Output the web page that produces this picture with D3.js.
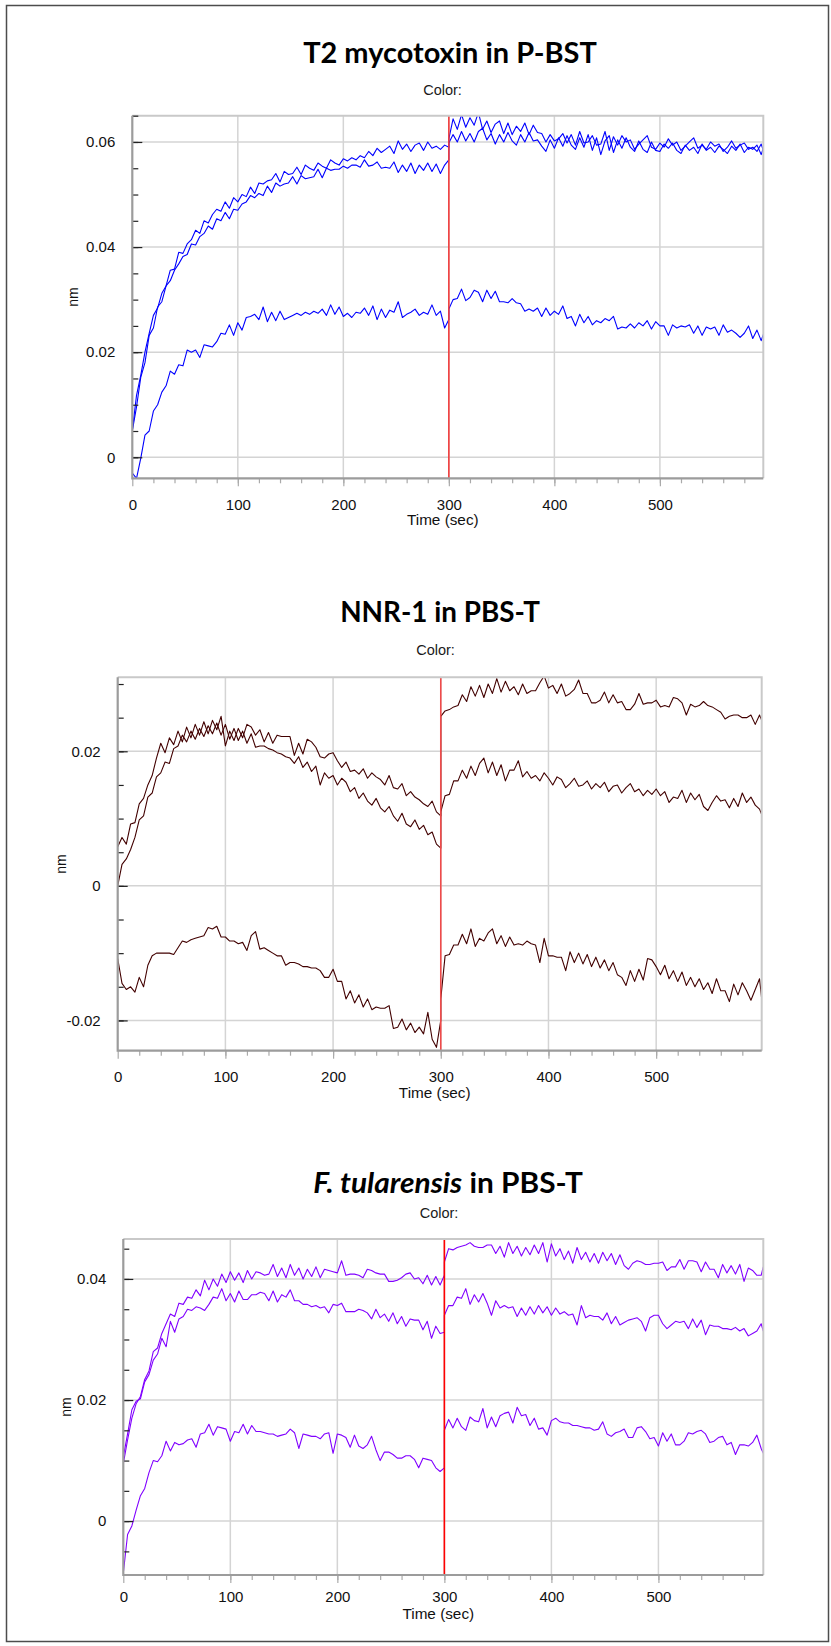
<!DOCTYPE html>
<html>
<head>
<meta charset="utf-8">
<script src="https://cdn.jsdelivr.net/npm/d3@7"></script>
<style>
  body { margin: 0; background: #fff; }
  svg { display: block; }
  text { font-family: "Liberation Sans", Arial, Helvetica, sans-serif; }
</style>
</head>
<body>
<svg id="fig" width="831" height="1646"></svg>
<script>
// Sampling grid in seconds: association 0–300 s, dissociation 300–598 s
const assocTime = d3.range(0, 301, 4);
const dissocTime = d3.range(300, 597, 4).concat([598]);
const timeSec = assocTime.concat(dissocTime);

// Response values below are in units of 1e-4 nm
const UNIT = 1e-4;

const xDomain = [0, 598];
const xTicksMajor = [0, 100, 200, 300, 400, 500];
const xTicksMinor = d3.range(20, 600, 20);
const xGrid = [100, 200, 300, 400, 500];
const bufferSwitch = 300;

// ---- T2 mycotoxin in P-BST ----
const t2YLabels = [0, 0.02, 0.04, 0.06];
const t2A = [
  50,118,156,200,236,270,284,312,326,356,
  358,390,388,406,414,432,426,450,446,462,
  472,468,486,474,494,486,500,496,514,502,
  522,520,526,528,540,524,544,538,540,552,
  538,556,550,546,560,554,550,566,560,556,
  568,564,570,566,574,570,582,574,588,580,
  586,592,578,602,586,596,582,594,598,584,
  600,588,592,586,594,590,
  606,644,624,652,628,646,632,656,624,640,
  618,634,640,616,636,614,630,620,636,614,
  632,618,616,600,614,602,606,616,598,614,
  594,620,598,600,612,594,596,620,584,610,
  594,612,600,604,586,596,604,612,590,586,
  598,590,606,594,600,584,592,600,608,588,
  594,586,600,592,596,582,590,602,588,594,
  598,586,590,582,596,584
];
const t2B = [
  50,96,152,180,232,246,286,296,326,336,
  356,368,382,386,406,404,420,426,440,434,
  454,450,466,454,472,470,482,486,498,494,
  502,498,516,504,522,516,520,522,534,520,
  536,530,532,534,548,532,550,546,548,548,
  554,550,556,556,552,566,554,556,562,550,
  552,550,562,542,556,544,560,540,556,546,
  560,544,558,540,556,566,
  598,614,600,620,602,616,600,620,626,604,
  616,596,614,600,618,602,594,614,600,618,
  602,604,592,582,604,588,608,592,612,594,
  586,608,590,614,584,608,576,602,612,580,
  604,588,608,590,582,602,586,580,600,584,
  582,596,588,598,584,578,594,584,590,578,
  596,584,590,580,592,586,578,592,584,596,
  580,590,586,594,576,588
];
const t2C = [
  -30,-40,-2,42,50,88,100,124,136,164,
  158,176,174,204,200,204,190,214,212,210,
  220,236,234,252,232,256,242,266,268,272,
  262,286,258,276,260,278,262,266,270,274,
  270,276,272,278,274,282,270,290,272,286,
  268,274,266,276,274,284,270,288,262,282,
  266,280,276,296,266,272,276,282,270,276,
  272,290,270,278,246,262,
  282,300,302,320,298,304,318,314,296,318,
  302,316,296,296,294,302,294,292,278,282,
  278,284,268,284,270,278,272,288,264,268,
  250,272,256,268,252,260,256,264,260,268,
  244,248,246,254,246,256,250,260,244,258,
  250,250,232,252,246,250,248,252,236,250,
  232,248,244,248,232,252,238,242,236,228,
  236,250,226,242,222,234
];

// ---- NNR-1 in PBS-T ----
const nnrYLabels = [-0.02, 0, 0.02];
const nnrD = [
  58,72,62,92,94,122,130,150,164,190,
  212,198,220,210,230,214,236,220,240,224,
  244,226,246,232,252,208,230,216,234,220,
  240,236,224,232,214,228,212,224,222,222,
  222,194,212,196,218,214,206,192,190,196,
  198,186,176,184,170,172,166,174,160,168,
  162,158,150,164,146,144,152,134,140,132,
  128,122,118,126,110,104,
  110,134,136,156,156,172,160,178,164,182,
  190,168,184,164,180,156,172,172,186,162,
  170,160,164,156,168,160,150,162,158,146,
  152,160,148,150,156,144,152,146,154,140,
  148,150,138,146,152,140,144,134,142,136,
  144,134,140,124,132,130,142,124,138,128,
  136,118,112,124,134,126,128,116,130,118,
  138,124,132,120,114,106
];
const nnrE = [
  0,32,40,54,72,98,104,132,138,162,
  168,184,182,204,208,224,214,230,218,234,
  222,238,226,242,224,240,218,234,216,230,
  212,226,206,208,208,204,202,198,196,192,
  190,182,192,176,184,170,178,150,168,160,
  164,150,160,154,140,146,130,138,126,120,
  130,116,110,118,104,96,108,92,88,98,
  84,90,76,80,62,56,
  252,260,262,266,268,284,274,296,282,298,
  280,300,286,308,288,304,290,296,284,300,
  286,290,290,302,312,294,298,286,300,282,
  286,292,306,286,286,272,272,276,288,272,
  284,272,274,262,262,270,286,270,272,272,
  276,266,268,266,280,278,272,254,270,266,
  268,274,268,266,262,258,248,252,254,254,
  250,250,254,240,254,246
];
const nnrF = [
  -108,-145,-154,-150,-158,-136,-150,-118,-104,-100,
  -100,-100,-100,-102,-92,-82,-84,-80,-78,-76,
  -74,-62,-64,-60,-76,-76,-82,-82,-86,-84,
  -96,-74,-68,-94,-92,-96,-100,-104,-104,-118,
  -114,-114,-116,-120,-120,-122,-122,-126,-136,-136,
  -124,-142,-142,-168,-156,-174,-162,-180,-168,-184,
  -180,-182,-182,-178,-212,-210,-198,-214,-204,-218,
  -210,-220,-188,-228,-240,-200,
  -168,-104,-102,-88,-88,-72,-86,-64,-90,-78,
  -82,-70,-64,-86,-74,-90,-76,-88,-86,-88,
  -82,-86,-88,-114,-78,-104,-104,-106,-106,-126,
  -98,-114,-100,-116,-102,-120,-106,-122,-110,-126,
  -114,-132,-136,-148,-126,-142,-124,-140,-108,-110,
  -120,-132,-118,-138,-126,-142,-128,-148,-136,-150,
  -138,-154,-144,-160,-138,-156,-156,-172,-146,-162,
  -144,-156,-170,-154,-138,-168
];

// ---- F. tularensis in PBS-T ----
const ftYLabels = [0, 0.02, 0.04];
const ftG = [
  95,134,170,194,206,234,248,280,286,310,
  326,342,338,360,358,370,368,382,372,398,
  382,400,388,408,394,412,398,410,394,414,
  400,412,410,406,408,424,404,418,402,424,
  406,418,400,416,404,420,402,416,414,412,
  410,430,406,408,408,406,402,416,414,410,
  408,408,396,396,398,402,408,410,400,402,
  392,406,390,404,390,406,
  428,450,448,452,454,456,460,454,452,452,
  456,456,442,454,436,460,442,454,438,452,
  440,456,442,460,428,458,438,450,432,446,
  426,452,432,444,428,442,426,444,430,442,
  424,440,422,416,426,430,428,424,424,426,
  426,428,414,420,420,432,416,430,430,428,
  412,428,416,416,402,424,410,422,408,424,
  396,418,414,406,406,420
];
const ftH = [
  106,144,184,198,202,230,242,266,276,302,
  288,330,312,334,338,350,348,354,352,348,
  358,370,368,384,364,376,362,380,366,366,
  374,374,378,376,364,380,362,374,370,382,
  364,364,358,358,354,356,352,354,344,358,
  356,360,346,346,346,350,348,344,334,350,
  336,342,330,344,326,338,322,334,332,332,
  316,330,302,322,310,312,
  340,356,356,370,368,384,358,374,362,376,
  360,340,364,352,356,352,354,338,352,340,
  354,342,356,344,354,340,352,342,346,340,
  342,324,356,336,340,338,338,332,344,326,
  338,324,328,332,334,336,330,314,336,340,
  340,326,318,324,330,328,330,318,334,320,
  332,308,324,322,322,318,318,316,320,314,
  318,306,310,314,326,314
];
const ftI = [
  -86,-22,-8,18,42,54,80,100,98,108,
  132,116,130,126,128,134,136,122,144,146,
  160,142,156,154,152,132,148,146,160,144,
  158,148,148,146,144,144,140,142,144,152,
  146,120,144,142,140,140,136,144,146,112,
  144,142,138,122,142,124,120,126,140,118,
  100,114,114,110,104,104,108,108,102,88,
  104,102,100,88,82,88,
  150,168,154,170,156,150,172,166,164,186,
  154,172,156,174,178,180,162,188,174,176,
  158,170,152,154,142,166,170,164,162,162,
  158,158,156,154,154,150,152,164,144,140,
  146,148,152,138,138,154,156,148,136,138,
  124,146,132,144,126,126,132,146,144,148,
  150,144,130,132,138,140,126,130,110,126,
  126,124,130,142,120,112
];

// Panel layout and styling
const panels = [
  {
    title: [{ text: "T2 mycotoxin in P-BST", italic: false }],
    titleX: 450, titleY: 63.3, titleW: 294,
    colorX: 442.5, colorY: 95,
    box: { l: 132.3, r: 763.3, t: 115.7, b: 478.3 },
    yDomain: [-0.004, 0.065], yLabels: t2YLabels,
    series: [t2A, t2B, t2C], stroke: "#0000ff", marker: "#f23c3c",
    xLabelPad: 13.5, timeY: 525, nmX: 73
  },
  {
    title: [{ text: "NNR-1 in PBS-T", italic: false }],
    titleX: 440, titleY: 621.7, titleW: 200,
    colorX: 435.5, colorY: 655,
    box: { l: 117.7, r: 761.7, t: 677.3, b: 1050.7 },
    yDomain: [-0.0245, 0.031], yLabels: nnrYLabels,
    series: [nnrD, nnrE, nnrF], stroke: "#420000", marker: "#f04a4a",
    xLabelPad: 12.5, timeY: 1098, nmX: 61
  },
  {
    title: [{ text: "F. tularensis", italic: true }, { text: " in PBS-T", italic: false }],
    titleX: 448, titleY: 1193.3, titleW: 270,
    colorX: 439, colorY: 1218,
    box: { l: 123.3, r: 763.3, t: 1239, b: 1575 },
    yDomain: [-0.0089, 0.0466], yLabels: ftYLabels,
    series: [ftG, ftH, ftI], stroke: "#8000ff", marker: "#ff0000",
    xLabelPad: 8.5, timeY: 1619, nmX: 66
  }
];

const svg = d3.select("#fig");

// page frame
svg.append("rect")
  .attr("x", 6.5).attr("y", 5.5)
  .attr("width", 822).attr("height", 1636)
  .attr("fill", "none").attr("stroke", "#4d4d4d").attr("stroke-width", 1.5);

const fmtY = d => (d === 0 ? "0" : String(d));

panels.forEach((p, i) => {
  const { l, r, t, b } = p.box;
  const x = d3.scaleLinear().domain(xDomain).range([l, r]);
  const y = d3.scaleLinear().domain(p.yDomain).range([b, t]);
  const g = svg.append("g").attr("class", "panel");

  const clipId = "plot-clip-" + i;
  svg.append("clipPath").attr("id", clipId)
    .append("rect").attr("x", l).attr("y", t).attr("width", r - l).attr("height", b - t);

  // Title (bold, squeezed to the printed width)
  const title = g.append("text")
    .attr("x", p.titleX).attr("y", p.titleY)
    .attr("text-anchor", "middle")
    .style("font-family", "Lato, 'Open Sans', sans-serif")
    .style("font-weight", 700)
    .style("font-size", "28px")
    .attr("fill", "#000");
  p.title.forEach(part => {
    title.append("tspan").text(part.text)
      .style("font-style", part.italic ? "italic" : "normal");
  });
  const tw = title.node().getBBox().width;
  title.attr("transform",
    `translate(${p.titleX},0) scale(${p.titleW / tw},1) translate(${-p.titleX},0)`);

  g.append("text")
    .attr("x", p.colorX).attr("y", p.colorY)
    .attr("text-anchor", "middle")
    .style("font-size", "14.5px")
    .attr("fill", "#1a1a1a")
    .text("Color:");

  // Grid
  g.append("g").selectAll("line").data(xGrid).join("line")
    .attr("x1", d => x(d)).attr("x2", d => x(d))
    .attr("y1", t).attr("y2", b)
    .attr("stroke", "#d4d4d4").attr("stroke-width", 1.5);
  g.append("g").selectAll("line").data(p.yLabels).join("line")
    .attr("x1", l).attr("x2", r)
    .attr("y1", d => y(d)).attr("y2", d => y(d))
    .attr("stroke", "#d4d4d4").attr("stroke-width", 1.5);

  // Sensor traces
  const line = d3.line()
    .x((d, j) => x(timeSec[j]))
    .y(d => y(d * UNIT));
  g.append("g").attr("clip-path", `url(#${clipId})`)
    .selectAll("path").data(p.series).join("path")
    .attr("d", line)
    .attr("fill", "none")
    .attr("stroke", p.stroke)
    .attr("stroke-width", 1.1)
    .attr("stroke-linejoin", "round");

  // Buffer-switch marker
  g.append("line")
    .attr("x1", x(bufferSwitch)).attr("x2", x(bufferSwitch))
    .attr("y1", t).attr("y2", b)
    .attr("stroke", p.marker).attr("stroke-width", 1.6);

  // Frame: light top/right, darker axes left/bottom
  g.append("path")
    .attr("d", `M${l},${t}H${r}V${b}`)
    .attr("fill", "none").attr("stroke", "#c9c9c9").attr("stroke-width", 2);

  // Y axis: minor ticks every 0.005 and labelled major ticks, drawn inward
  const k0 = Math.ceil(p.yDomain[0] / 0.005 - 1e-9);
  const k1 = Math.floor(p.yDomain[1] / 0.005 + 1e-9);
  const yMinor = d3.range(k0, k1 + 1).map(k => +(k * 0.005).toFixed(3));
  const yAxisG = g.append("g").attr("transform", `translate(${l},0)`);
  yAxisG.append("g")
    .call(d3.axisLeft(y).tickValues(yMinor).tickSize(-6).tickFormat(""))
    .call(s => s.select(".domain").remove())
    .selectAll("line").attr("stroke", "#222").attr("stroke-width", 1.2);
  const yMajor = yAxisG.append("g")
    .call(d3.axisLeft(y).tickValues(p.yLabels).tickSize(-10).tickPadding(17).tickFormat(fmtY))
    .call(s => s.select(".domain").remove());
  yMajor.selectAll("line").attr("stroke", "#222").attr("stroke-width", 1.2);
  yMajor.selectAll("text")
    .style("font-family", "'Liberation Sans', Arial, sans-serif")
    .style("font-size", "15px").attr("fill", "#111");

  // X axis: minor ticks every 20 s, labelled every 100 s, drawn outward
  const xAxisG = g.append("g").attr("transform", `translate(0,${b})`);
  xAxisG.append("g")
    .call(d3.axisBottom(x).tickValues(xTicksMinor).tickSize(5).tickFormat(""))
    .call(s => s.select(".domain").remove())
    .selectAll("line").attr("stroke", "#aaa").attr("stroke-width", 1.2);
  const xMajor = xAxisG.append("g")
    .call(d3.axisBottom(x).tickValues(xTicksMajor).tickSize(8).tickPadding(p.xLabelPad).tickFormat(d3.format("d")))
    .call(s => s.select(".domain").remove());
  xMajor.selectAll("line").attr("stroke", "#aaa").attr("stroke-width", 1.2);
  xMajor.selectAll("text")
    .style("font-family", "'Liberation Sans', Arial, sans-serif")
    .style("font-size", "15px").attr("fill", "#111");

  // Axis lines
  g.append("path")
    .attr("d", `M${l},${t}V${b}H${r}`)
    .attr("fill", "none").attr("stroke", "#9c9c9c").attr("stroke-width", 2.2);

  // Axis titles
  g.append("text")
    .attr("x", (l + r) / 2 - 5).attr("y", p.timeY)
    .attr("text-anchor", "middle")
    .style("font-size", "15.3px").attr("fill", "#111")
    .text("Time (sec)");
  g.append("text")
    .attr("transform", `translate(${p.nmX},${(t + b) / 2}) rotate(-90)`)
    .attr("text-anchor", "middle")
    .attr("dy", "0.35em")
    .style("font-size", "14px").attr("fill", "#111")
    .text("nm");
});
</script>
</body>
</html>
